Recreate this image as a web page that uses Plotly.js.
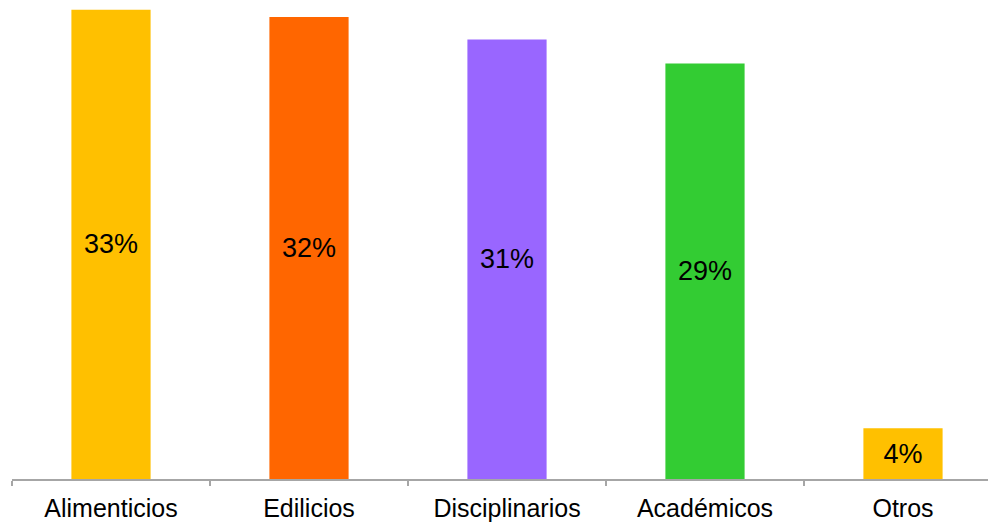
<!DOCTYPE html>
<html>
<head>
<meta charset="utf-8">
<script src="https://cdn.plot.ly/plotly-3.0.1.min.js"></script>
<style>
html, body { margin: 0; padding: 0; overflow: hidden; background: #fff; width: 988px; height: 522px; }
#chart { width: 1004px; height: 522px; }
</style>
</head>
<body>
<div id="chart"></div>
<script>
const categories = ["Alimenticios", "Edilicios", "Disciplinarios", "Académicos", "Otros"];
const values = [33.3, 32.8, 31.2, 29.5, 3.6];
const labels = ["33%", "32%", "31%", "29%", "4%"];
const colors = ["#FFC000", "#FF6600", "#9966FF", "#33CC33", "#FFC000"];

const trace = {
  type: "bar",
  x: categories,
  y: values,
  text: labels,
  textposition: "inside",
  insidetextanchor: "middle",
  textangle: 0,
  textfont: { family: "Liberation Sans, Arial, sans-serif", size: 27, color: "#000000" },
  marker: { color: colors, line: { width: 0 } },
  width: 0.4,
  hoverinfo: "none"
};

const layout = {
  width: 1004,
  height: 522,
  margin: { l: 12, r: 2, t: 0, b: 43 },
  paper_bgcolor: "#ffffff",
  plot_bgcolor: "#ffffff",
  showlegend: false,
  xaxis: {
    type: "category",
    showline: true,
    linecolor: "#A6A6A6",
    linewidth: 2,
    ticks: "outside",
    tickson: "boundaries",
    ticklen: 5,
    tickcolor: "#A6A6A6",
    tickwidth: 2,
    ticklabelstandoff: 6,
    showgrid: false,
    tickfont: { family: "Liberation Sans, Arial, sans-serif", size: 25, color: "#000000" },
    fixedrange: true
  },
  yaxis: {
    range: [0, 34],
    visible: false,
    showgrid: false,
    zeroline: false,
    fixedrange: true
  }
};

Plotly.newPlot("chart", [trace], layout, { staticPlot: true, displayModeBar: false });
</script>
</body>
</html>
